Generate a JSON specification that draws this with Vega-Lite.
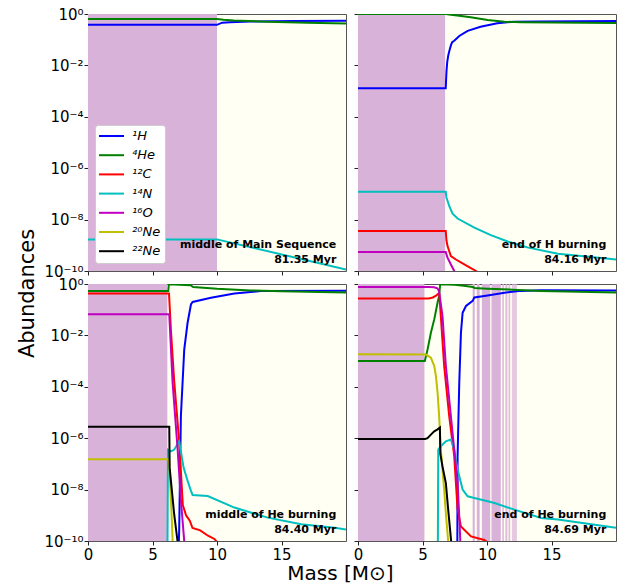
{
"$schema": "https://vega.github.io/schema/vega-lite/v6.json",
"padding": {"left": 15, "top": 6, "right": 5, "bottom": 0},
"bounds": "flush",
"columns": 2,
"spacing": {"row": 13, "column": 12},
"resolve": {"scale": {"color": "independent", "opacity": "independent"}, "legend": {"color": "independent", "opacity": "independent"}},
"config": {
  "font": "DejaVu Sans",
  "view": {"fill": "#fffff3", "stroke": "#555555", "strokeWidth": 1},
  "axis": {"grid": false, "domain": false, "tickSize": 4, "tickColor": "#222222", "tickWidth": 1, "labelFont": "DejaVu Sans", "labelFontSize": 15, "labelColor": "#000000", "labelPadding": 2, "labelFlush": false, "labelOverlap": false, "titleFont": "DejaVu Sans", "titleFontWeight": "normal", "titleColor": "#000000"},
  "line": {"strokeWidth": 2, "clip": true}
},
"datasets": {
  "zones": [
    {"p": 1, "m0": 0, "m1": 10, "kind": "conv"},
    {"p": 2, "m0": 0, "m1": 6.75, "kind": "conv"},
    {"p": 3, "m0": 0, "m1": 6.15, "kind": "conv"},
    {"p": 4, "m0": 0, "m1": 5.15, "kind": "conv"},
    {"p": 4, "m0": 8.89, "m1": 9.05, "kind": "conv"},
    {"p": 4, "m0": 9.21, "m1": 9.43, "kind": "conv"},
    {"p": 4, "m0": 9.6, "m1": 10.25, "kind": "conv"},
    {"p": 4, "m0": 10.35, "m1": 11.07, "kind": "conv"},
    {"p": 4, "m0": 11.18, "m1": 11.31, "kind": "semi"},
    {"p": 4, "m0": 11.42, "m1": 11.58, "kind": "semi"},
    {"p": 4, "m0": 11.67, "m1": 11.8, "kind": "semi"},
    {"p": 4, "m0": 11.93, "m1": 12.32, "kind": "weak"}
  ],
  "notes": [
    {"p": 1, "event": "middle of Main Sequence", "age": "81.35 Myr"},
    {"p": 2, "event": "end of H burning", "age": "84.16 Myr"},
    {"p": 3, "event": "middle of He burning", "age": "84.40 Myr"},
    {"p": 4, "event": "end of He burning", "age": "84.69 Myr"}
  ],
  "curves": [
    {"p":1,"s":"¹H","m":0,"a":0.38},{"p":1,"s":"¹H","m":10,"a":0.38},{"p":1,"s":"¹H","m":10.4,"a":0.46},{"p":1,"s":"¹H","m":11,"a":0.48},{"p":1,"s":"¹H","m":12.6,"a":0.51},{"p":1,"s":"¹H","m":16,"a":0.53},{"p":1,"s":"¹H","m":20,"a":0.55},
    {"p":1,"s":"⁴He","m":0,"a":0.64},{"p":1,"s":"⁴He","m":10,"a":0.64},{"p":1,"s":"⁴He","m":10.5,"a":0.6},{"p":1,"s":"⁴He","m":11.3,"a":0.56},{"p":1,"s":"⁴He","m":13.9,"a":0.5},{"p":1,"s":"⁴He","m":17,"a":0.46},{"p":1,"s":"⁴He","m":20,"a":0.43},
    {"p":1,"s":"¹⁴N","m":0,"a":1.7e-9},{"p":1,"s":"¹⁴N","m":10,"a":1.7e-9},{"p":1,"s":"¹⁴N","m":20,"a":1.15e-10},

    {"p":2,"s":"¹H","m":0,"a":0.0013},{"p":2,"s":"¹H","m":6.8,"a":0.0013},{"p":2,"s":"¹H","m":6.86,"a":0.006},{"p":2,"s":"¹H","m":6.92,"a":0.014},{"p":2,"s":"¹H","m":7.0,"a":0.025},{"p":2,"s":"¹H","m":7.1,"a":0.04},{"p":2,"s":"¹H","m":7.2,"a":0.06},{"p":2,"s":"¹H","m":7.3,"a":0.08},{"p":2,"s":"¹H","m":7.46,"a":0.091},{"p":2,"s":"¹H","m":7.85,"a":0.14},{"p":2,"s":"¹H","m":8.5,"a":0.22},{"p":2,"s":"¹H","m":9.5,"a":0.32},{"p":2,"s":"¹H","m":10.8,"a":0.44},{"p":2,"s":"¹H","m":12.1,"a":0.5},{"p":2,"s":"¹H","m":14,"a":0.51},{"p":2,"s":"¹H","m":20,"a":0.53},
    {"p":2,"s":"⁴He","m":0,"a":0.99},{"p":2,"s":"⁴He","m":6.8,"a":0.99},{"p":2,"s":"⁴He","m":7.2,"a":0.94},{"p":2,"s":"⁴He","m":8,"a":0.84},{"p":2,"s":"⁴He","m":8.74,"a":0.74},{"p":2,"s":"⁴He","m":10.05,"a":0.59},{"p":2,"s":"⁴He","m":11.35,"a":0.5},{"p":2,"s":"⁴He","m":12.64,"a":0.48},{"p":2,"s":"⁴He","m":20,"a":0.45},
    {"p":2,"s":"¹²C","m":0,"a":3.6e-9},{"p":2,"s":"¹²C","m":6.8,"a":3.6e-9},{"p":2,"s":"¹²C","m":6.86,"a":1.5e-9},{"p":2,"s":"¹²C","m":6.94,"a":9.3e-10},{"p":2,"s":"¹²C","m":7.2,"a":3.8e-10},{"p":2,"s":"¹²C","m":7.59,"a":2.8e-10},{"p":2,"s":"¹²C","m":8.24,"a":1.8e-10},{"p":2,"s":"¹²C","m":9.15,"a":1e-10},{"p":2,"s":"¹²C","m":9.6,"a":6e-11},
    {"p":2,"s":"¹⁴N","m":0,"a":1.2e-7},{"p":2,"s":"¹⁴N","m":6.8,"a":1.2e-7},{"p":2,"s":"¹⁴N","m":6.86,"a":7e-8},{"p":2,"s":"¹⁴N","m":6.94,"a":5.4e-8},{"p":2,"s":"¹⁴N","m":7.07,"a":3.4e-8},{"p":2,"s":"¹⁴N","m":7.33,"a":1.7e-8},{"p":2,"s":"¹⁴N","m":7.72,"a":1.1e-8},{"p":2,"s":"¹⁴N","m":9.02,"a":4.9e-9},{"p":2,"s":"¹⁴N","m":10.3,"a":2.5e-9},{"p":2,"s":"¹⁴N","m":11.6,"a":1.4e-9},{"p":2,"s":"¹⁴N","m":13.2,"a":8.1e-10},{"p":2,"s":"¹⁴N","m":15.5,"a":4.7e-10},{"p":2,"s":"¹⁴N","m":18.1,"a":3.5e-10},{"p":2,"s":"¹⁴N","m":20,"a":2.8e-10},
    {"p":2,"s":"¹⁶O","m":0,"a":5.5e-10},{"p":2,"s":"¹⁶O","m":6.8,"a":5.5e-10},{"p":2,"s":"¹⁶O","m":6.94,"a":3.3e-10},{"p":2,"s":"¹⁶O","m":7.2,"a":1.8e-10},{"p":2,"s":"¹⁶O","m":7.46,"a":1e-10},{"p":2,"s":"¹⁶O","m":7.6,"a":6e-11},

    {"p":3,"s":"¹H","m":7.03,"a":5e-11},{"p":3,"s":"¹H","m":7.07,"a":2.8e-10},{"p":3,"s":"¹H","m":7.2,"a":7.2e-6},{"p":3,"s":"¹H","m":7.46,"a":0.0028},{"p":3,"s":"¹H","m":7.72,"a":0.031},{"p":3,"s":"¹H","m":7.98,"a":0.16},{"p":3,"s":"¹H","m":8.11,"a":0.2},{"p":3,"s":"¹H","m":9.53,"a":0.29},{"p":3,"s":"¹H","m":11.35,"a":0.43},{"p":3,"s":"¹H","m":13.4,"a":0.53},{"p":3,"s":"¹H","m":20,"a":0.55},
    {"p":3,"s":"⁴He","m":0,"a":0.53},{"p":3,"s":"⁴He","m":6.22,"a":0.53},{"p":3,"s":"⁴He","m":6.27,"a":0.98},{"p":3,"s":"⁴He","m":7.95,"a":0.9},{"p":3,"s":"⁴He","m":8.15,"a":0.76},{"p":3,"s":"⁴He","m":10,"a":0.65},{"p":3,"s":"⁴He","m":12.6,"a":0.56},{"p":3,"s":"⁴He","m":15,"a":0.52},{"p":3,"s":"⁴He","m":20,"a":0.47},
    {"p":3,"s":"¹²C","m":0,"a":0.43},{"p":3,"s":"¹²C","m":6.28,"a":0.43},{"p":3,"s":"¹²C","m":6.43,"a":0.015},{"p":3,"s":"¹²C","m":6.68,"a":0.00017},{"p":3,"s":"¹²C","m":7.07,"a":7e-7},{"p":3,"s":"¹²C","m":7.35,"a":2.5e-9},{"p":3,"s":"¹²C","m":7.6,"a":1e-9},{"p":3,"s":"¹²C","m":7.9,"a":6e-10},{"p":3,"s":"¹²C","m":8.1,"a":3.2e-10},{"p":3,"s":"¹²C","m":8.7,"a":2.6e-10},{"p":3,"s":"¹²C","m":9.3,"a":1.6e-10},{"p":3,"s":"¹²C","m":9.8,"a":1.2e-10},{"p":3,"s":"¹²C","m":10.1,"a":8e-11},
    {"p":3,"s":"¹⁴N","m":6.16,"a":5e-11},{"p":3,"s":"¹⁴N","m":6.2,"a":3.6e-7},{"p":3,"s":"¹⁴N","m":6.43,"a":3.1e-7},{"p":3,"s":"¹⁴N","m":6.69,"a":3.6e-7},{"p":3,"s":"¹⁴N","m":7.07,"a":7.6e-7},{"p":3,"s":"¹⁴N","m":7.41,"a":7.2e-8},{"p":3,"s":"¹⁴N","m":7.72,"a":2.2e-8},{"p":3,"s":"¹⁴N","m":7.98,"a":8.9e-9},{"p":3,"s":"¹⁴N","m":8.11,"a":6.2e-9},{"p":3,"s":"¹⁴N","m":9.28,"a":5.6e-9},{"p":3,"s":"¹⁴N","m":11.35,"a":2e-9},{"p":3,"s":"¹⁴N","m":13.94,"a":8.1e-10},{"p":3,"s":"¹⁴N","m":16.53,"a":4.5e-10},{"p":3,"s":"¹⁴N","m":19.12,"a":3.3e-10},{"p":3,"s":"¹⁴N","m":20,"a":2.8e-10},
    {"p":3,"s":"¹⁶O","m":0,"a":0.066},{"p":3,"s":"¹⁶O","m":6.3,"a":0.066},{"p":3,"s":"¹⁶O","m":6.56,"a":0.00014},{"p":3,"s":"¹⁶O","m":6.95,"a":3.6e-7},{"p":3,"s":"¹⁶O","m":7.2,"a":4e-9},{"p":3,"s":"¹⁶O","m":7.46,"a":1e-10},{"p":3,"s":"¹⁶O","m":7.55,"a":5e-11},
    {"p":3,"s":"²⁰Ne","m":0,"a":1.5e-7},{"p":3,"s":"²⁰Ne","m":6.25,"a":1.5e-7},{"p":3,"s":"²⁰Ne","m":6.3,"a":9.4e-8},{"p":3,"s":"²⁰Ne","m":6.48,"a":1.1e-9},{"p":3,"s":"²⁰Ne","m":6.56,"a":1e-10},{"p":3,"s":"²⁰Ne","m":6.6,"a":5e-11},
    {"p":3,"s":"²²Ne","m":0,"a":2.8e-6},{"p":3,"s":"²²Ne","m":6.3,"a":2.8e-6},{"p":3,"s":"²²Ne","m":6.33,"a":7e-8},{"p":3,"s":"²²Ne","m":6.68,"a":1.1e-9},{"p":3,"s":"²²Ne","m":6.94,"a":1e-10},{"p":3,"s":"²²Ne","m":7.0,"a":5e-11},

    {"p":4,"s":"¹H","m":7.7,"a":5e-11},{"p":4,"s":"¹H","m":7.72,"a":2e-7},{"p":4,"s":"¹H","m":7.85,"a":0.00014},{"p":4,"s":"¹H","m":7.98,"a":0.0126},{"p":4,"s":"¹H","m":8.11,"a":0.076},{"p":4,"s":"¹H","m":8.37,"a":0.14},{"p":4,"s":"¹H","m":8.89,"a":0.22},{"p":4,"s":"¹H","m":9.02,"a":0.3},{"p":4,"s":"¹H","m":10.05,"a":0.36},{"p":4,"s":"¹H","m":11.35,"a":0.46},{"p":4,"s":"¹H","m":12.64,"a":0.54},{"p":4,"s":"¹H","m":14.2,"a":0.57},{"p":4,"s":"¹H","m":20,"a":0.56},
    {"p":4,"s":"⁴He","m":0,"a":0.001},{"p":4,"s":"⁴He","m":5.18,"a":0.001},{"p":4,"s":"⁴He","m":5.39,"a":0.0028},{"p":4,"s":"⁴He","m":5.65,"a":0.0126},{"p":4,"s":"⁴He","m":5.91,"a":0.042},{"p":4,"s":"⁴He","m":6.17,"a":0.19},{"p":4,"s":"⁴He","m":6.29,"a":0.34},{"p":4,"s":"⁴He","m":6.37,"a":0.98},{"p":4,"s":"⁴He","m":7.5,"a":0.93},{"p":4,"s":"⁴He","m":8.2,"a":0.85},{"p":4,"s":"⁴He","m":8.9,"a":0.76},{"p":4,"s":"⁴He","m":9.05,"a":0.7},{"p":4,"s":"⁴He","m":10,"a":0.66},{"p":4,"s":"⁴He","m":12,"a":0.6},{"p":4,"s":"⁴He","m":14.2,"a":0.54},{"p":4,"s":"⁴He","m":20,"a":0.47},
    {"p":4,"s":"¹²C","m":0,"a":0.27},{"p":4,"s":"¹²C","m":5.15,"a":0.27},{"p":4,"s":"¹²C","m":5.5,"a":0.275},{"p":4,"s":"¹²C","m":5.8,"a":0.3},{"p":4,"s":"¹²C","m":6.05,"a":0.35},{"p":4,"s":"¹²C","m":6.22,"a":0.42},{"p":4,"s":"¹²C","m":6.3,"a":0.42},{"p":4,"s":"¹²C","m":6.42,"a":0.056},{"p":4,"s":"¹²C","m":6.68,"a":0.00065},{"p":4,"s":"¹²C","m":7.07,"a":7.2e-6},{"p":4,"s":"¹²C","m":7.46,"a":2e-7},{"p":4,"s":"¹²C","m":7.59,"a":1.8e-8},{"p":4,"s":"¹²C","m":7.72,"a":1.7e-9},{"p":4,"s":"¹²C","m":7.98,"a":3.7e-10},{"p":4,"s":"¹²C","m":8.76,"a":1.5e-10},{"p":4,"s":"¹²C","m":9.79,"a":1.1e-10},{"p":4,"s":"¹²C","m":9.92,"a":1e-10},{"p":4,"s":"¹²C","m":10.0,"a":6e-11},
    {"p":4,"s":"¹⁴N","m":6.19,"a":5e-11},{"p":4,"s":"¹⁴N","m":6.22,"a":3.6e-7},{"p":4,"s":"¹⁴N","m":6.42,"a":4.9e-7},{"p":4,"s":"¹⁴N","m":6.81,"a":7.6e-7},{"p":4,"s":"¹⁴N","m":7.2,"a":8.9e-7},{"p":4,"s":"¹⁴N","m":7.46,"a":3.6e-7},{"p":4,"s":"¹⁴N","m":7.72,"a":6e-8},{"p":4,"s":"¹⁴N","m":8.11,"a":1e-8},{"p":4,"s":"¹⁴N","m":8.5,"a":5.5e-9},{"p":4,"s":"¹⁴N","m":9.02,"a":4.7e-9},{"p":4,"s":"¹⁴N","m":10.05,"a":3.5e-9},{"p":4,"s":"¹⁴N","m":10.57,"a":3e-9},{"p":4,"s":"¹⁴N","m":12.12,"a":1.66e-9},{"p":4,"s":"¹⁴N","m":14.2,"a":7.9e-10},{"p":4,"s":"¹⁴N","m":15.5,"a":6.9e-10},{"p":4,"s":"¹⁴N","m":18.08,"a":4.5e-10},{"p":4,"s":"¹⁴N","m":20,"a":3.3e-10},
    {"p":4,"s":"¹⁶O","m":0,"a":0.77},{"p":4,"s":"¹⁶O","m":5.5,"a":0.77},{"p":4,"s":"¹⁶O","m":5.9,"a":0.75},{"p":4,"s":"¹⁶O","m":6.15,"a":0.68},{"p":4,"s":"¹⁶O","m":6.27,"a":0.55},{"p":4,"s":"¹⁶O","m":6.3,"a":0.45},{"p":4,"s":"¹⁶O","m":6.55,"a":0.056},{"p":4,"s":"¹⁶O","m":6.81,"a":0.00065},{"p":4,"s":"¹⁶O","m":7.2,"a":7.2e-6},{"p":4,"s":"¹⁶O","m":7.46,"a":3.6e-7},{"p":4,"s":"¹⁶O","m":7.72,"a":1.8e-8},{"p":4,"s":"¹⁶O","m":7.85,"a":9e-10},{"p":4,"s":"¹⁶O","m":7.93,"a":1e-10},{"p":4,"s":"¹⁶O","m":7.96,"a":5e-11},
    {"p":4,"s":"²⁰Ne","m":0,"a":0.00185},{"p":4,"s":"²⁰Ne","m":5.26,"a":0.0018},{"p":4,"s":"²⁰Ne","m":5.65,"a":0.00135},{"p":4,"s":"²⁰Ne","m":5.91,"a":0.00065},{"p":4,"s":"²⁰Ne","m":6.04,"a":0.00026},{"p":4,"s":"²⁰Ne","m":6.17,"a":0.000059},{"p":4,"s":"²⁰Ne","m":6.29,"a":7.2e-6},{"p":4,"s":"²⁰Ne","m":6.42,"a":3.6e-7},{"p":4,"s":"²⁰Ne","m":6.55,"a":6e-8},{"p":4,"s":"²⁰Ne","m":6.68,"a":1e-8},{"p":4,"s":"²⁰Ne","m":6.81,"a":1.2e-9},{"p":4,"s":"²⁰Ne","m":6.99,"a":1e-10},{"p":4,"s":"²⁰Ne","m":7.02,"a":5e-11},
    {"p":4,"s":"²²Ne","m":0,"a":9.3e-7},{"p":4,"s":"²²Ne","m":5.2,"a":9.3e-7},{"p":4,"s":"²²Ne","m":5.39,"a":1.0e-6},{"p":4,"s":"²²Ne","m":5.65,"a":1.38e-6},{"p":4,"s":"²²Ne","m":5.91,"a":1.86e-6},{"p":4,"s":"²²Ne","m":6.17,"a":2.2e-6},{"p":4,"s":"²²Ne","m":6.35,"a":2.6e-6},{"p":4,"s":"²²Ne","m":6.38,"a":2.5e-7},{"p":4,"s":"²²Ne","m":6.55,"a":8e-8},{"p":4,"s":"²²Ne","m":6.81,"a":1.8e-8},{"p":4,"s":"²²Ne","m":6.99,"a":1.7e-9},{"p":4,"s":"²²Ne","m":7.22,"a":1e-10},{"p":4,"s":"²²Ne","m":7.26,"a":5e-11}
  ]
},
"concat": [
  {
    "width": 258, "height": 257,
    "layer": [
      {"data": {"name": "zones"}, "transform": [{"filter": "datum.p == 1"}],
       "mark": {"type": "rect", "color": "#d8b2d8"},
       "encoding": {
         "x": {"field": "m0", "type": "quantitative", "scale": {"domain": [0, 20], "nice": false, "zero": false}, "axis": {"values": [0, 5, 10, 15], "labels": false, "title": null}},
         "x2": {"field": "m1"},
         "y": {"datum": 1e-10, "type": "quantitative", "scale": {"type": "log", "domain": [1e-10, 1], "nice": false}, "axis": {"values": [1e-10, 1e-8, 1e-6, 1e-4, 0.01, 1], "labelPadding": 1, "labelExpr": "datum.value > 0.5 ? '10⁰' : datum.value > 0.005 ? '10⁻²' : datum.value > 0.00005 ? '10⁻⁴' : datum.value > 0.0000005 ? '10⁻⁶' : datum.value > 0.000000005 ? '10⁻⁸' : '10⁻¹⁰'", "title": "Abundances", "titleFontSize": 21, "titleX": -55, "titleY": 279, "titleAngle": -90, "titleAlign": "center", "titleBaseline": "alphabetic"}},
         "y2": {"datum": 1},
         "opacity": {"field": "kind", "type": "ordinal", "scale": {"domain": ["conv", "semi", "weak"], "range": [1, 0.7, 0.45]}, "legend": null}
       }},
      {"data": {"name": "curves"}, "transform": [{"filter": "datum.p == 1"}],
       "mark": {"type": "line", "clip": true},
       "encoding": {
         "x": {"field": "m", "type": "quantitative"},
         "y": {"field": "a", "type": "quantitative"},
         "color": {"field": "s", "type": "nominal", "scale": {"domain": ["¹H", "⁴He", "¹²C", "¹⁴N", "¹⁶O", "²⁰Ne", "²²Ne"], "range": ["#0000ff", "#008000", "#ff0000", "#00bfbf", "#bf00bf", "#bfbf00", "#000000"]},
           "legend": {"orient": "none", "legendX": 7, "legendY": 111, "title": null, "fillColor": "#ffffff", "strokeColor": "#cccccc", "cornerRadius": 3, "padding": 4.5, "symbolType": "M-2.5,0H2.5", "symbolSize": 100, "symbolStrokeWidth": 2, "symbolOffset": 5.5, "labelFont": "DejaVu Sans", "labelFontSize": 13, "labelFontStyle": "italic", "labelColor": "#000000", "labelOffset": 14, "rowPadding": 5.2}}
       }},
      {"data": {"name": "notes"}, "transform": [{"filter": "datum.p == 1"}],
       "mark": {"type": "text", "align": "right", "baseline": "alphabetic", "fontWeight": "bold", "fontSize": 11, "font": "DejaVu Sans", "color": "#000000"},
       "encoding": {"x": {"datum": 19.25}, "y": {"datum": 7.66e-10}, "text": {"field": "event"}}},
      {"data": {"name": "notes"}, "transform": [{"filter": "datum.p == 1"}],
       "mark": {"type": "text", "align": "right", "baseline": "alphabetic", "fontWeight": "bold", "fontSize": 11, "font": "DejaVu Sans", "color": "#000000"},
       "encoding": {"x": {"datum": 19.25}, "y": {"datum": 2.0e-10}, "text": {"field": "age"}}}
    ]
  },
  {
    "width": 258, "height": 257,
    "layer": [
      {"data": {"name": "zones"}, "transform": [{"filter": "datum.p == 2"}],
       "mark": {"type": "rect", "color": "#d8b2d8"},
       "encoding": {
         "x": {"field": "m0", "type": "quantitative", "scale": {"domain": [0, 20], "nice": false, "zero": false}, "axis": {"values": [0, 5, 10, 15], "labels": false, "title": null}},
         "x2": {"field": "m1"},
         "y": {"datum": 1e-10, "type": "quantitative", "scale": {"type": "log", "domain": [1e-10, 1], "nice": false}, "axis": {"values": [1e-10, 1e-8, 1e-6, 1e-4, 0.01, 1], "labels": false, "title": null}},
         "y2": {"datum": 1},
         "opacity": {"field": "kind", "type": "ordinal", "scale": {"domain": ["conv", "semi", "weak"], "range": [1, 0.7, 0.45]}, "legend": null}
       }},
      {"data": {"name": "curves"}, "transform": [{"filter": "datum.p == 2"}],
       "mark": {"type": "line", "clip": true},
       "encoding": {
         "x": {"field": "m", "type": "quantitative"},
         "y": {"field": "a", "type": "quantitative"},
         "color": {"field": "s", "type": "nominal", "scale": {"domain": ["¹H", "⁴He", "¹²C", "¹⁴N", "¹⁶O", "²⁰Ne", "²²Ne"], "range": ["#0000ff", "#008000", "#ff0000", "#00bfbf", "#bf00bf", "#bfbf00", "#000000"]}, "legend": null}
       }},
      {"data": {"name": "notes"}, "transform": [{"filter": "datum.p == 2"}],
       "mark": {"type": "text", "align": "right", "baseline": "alphabetic", "fontWeight": "bold", "fontSize": 11, "font": "DejaVu Sans", "color": "#000000"},
       "encoding": {"x": {"datum": 19.25}, "y": {"datum": 7.66e-10}, "text": {"field": "event"}}},
      {"data": {"name": "notes"}, "transform": [{"filter": "datum.p == 2"}],
       "mark": {"type": "text", "align": "right", "baseline": "alphabetic", "fontWeight": "bold", "fontSize": 11, "font": "DejaVu Sans", "color": "#000000"},
       "encoding": {"x": {"datum": 19.25}, "y": {"datum": 2.0e-10}, "text": {"field": "age"}}}
    ]
  },
  {
    "width": 258, "height": 257,
    "layer": [
      {"data": {"name": "zones"}, "transform": [{"filter": "datum.p == 3"}],
       "mark": {"type": "rect", "color": "#d8b2d8"},
       "encoding": {
         "x": {"field": "m0", "type": "quantitative", "scale": {"domain": [0, 20], "nice": false, "zero": false}, "axis": {"values": [0, 5, 10, 15], "title": "Mass [M⊙]", "titleFontSize": 20, "titleX": 252, "titleY": 38, "titleAlign": "center", "titleBaseline": "alphabetic"}},
         "x2": {"field": "m1"},
         "y": {"datum": 1e-10, "type": "quantitative", "scale": {"type": "log", "domain": [1e-10, 1], "nice": false}, "axis": {"values": [1e-10, 1e-8, 1e-6, 1e-4, 0.01, 1], "labelPadding": 1, "labelExpr": "datum.value > 0.5 ? '10⁰' : datum.value > 0.005 ? '10⁻²' : datum.value > 0.00005 ? '10⁻⁴' : datum.value > 0.0000005 ? '10⁻⁶' : datum.value > 0.000000005 ? '10⁻⁸' : '10⁻¹⁰'", "title": null}},
         "y2": {"datum": 1},
         "opacity": {"field": "kind", "type": "ordinal", "scale": {"domain": ["conv", "semi", "weak"], "range": [1, 0.7, 0.45]}, "legend": null}
       }},
      {"data": {"name": "curves"}, "transform": [{"filter": "datum.p == 3"}],
       "mark": {"type": "line", "clip": true},
       "encoding": {
         "x": {"field": "m", "type": "quantitative"},
         "y": {"field": "a", "type": "quantitative"},
         "color": {"field": "s", "type": "nominal", "scale": {"domain": ["¹H", "⁴He", "¹²C", "¹⁴N", "¹⁶O", "²⁰Ne", "²²Ne"], "range": ["#0000ff", "#008000", "#ff0000", "#00bfbf", "#bf00bf", "#bfbf00", "#000000"]}, "legend": null}
       }},
      {"data": {"name": "notes"}, "transform": [{"filter": "datum.p == 3"}],
       "mark": {"type": "text", "align": "right", "baseline": "alphabetic", "fontWeight": "bold", "fontSize": 11, "font": "DejaVu Sans", "color": "#000000"},
       "encoding": {"x": {"datum": 19.25}, "y": {"datum": 7.66e-10}, "text": {"field": "event"}}},
      {"data": {"name": "notes"}, "transform": [{"filter": "datum.p == 3"}],
       "mark": {"type": "text", "align": "right", "baseline": "alphabetic", "fontWeight": "bold", "fontSize": 11, "font": "DejaVu Sans", "color": "#000000"},
       "encoding": {"x": {"datum": 19.25}, "y": {"datum": 2.0e-10}, "text": {"field": "age"}}}
    ]
  },
  {
    "width": 258, "height": 257,
    "layer": [
      {"data": {"name": "zones"}, "transform": [{"filter": "datum.p == 4"}],
       "mark": {"type": "rect", "color": "#d8b2d8"},
       "encoding": {
         "x": {"field": "m0", "type": "quantitative", "scale": {"domain": [0, 20], "nice": false, "zero": false}, "axis": {"values": [0, 5, 10, 15], "title": null}},
         "x2": {"field": "m1"},
         "y": {"datum": 1e-10, "type": "quantitative", "scale": {"type": "log", "domain": [1e-10, 1], "nice": false}, "axis": {"values": [1e-10, 1e-8, 1e-6, 1e-4, 0.01, 1], "labels": false, "title": null}},
         "y2": {"datum": 1},
         "opacity": {"field": "kind", "type": "ordinal", "scale": {"domain": ["conv", "semi", "weak"], "range": [1, 0.7, 0.45]}, "legend": null}
       }},
      {"data": {"name": "curves"}, "transform": [{"filter": "datum.p == 4"}],
       "mark": {"type": "line", "clip": true},
       "encoding": {
         "x": {"field": "m", "type": "quantitative"},
         "y": {"field": "a", "type": "quantitative"},
         "color": {"field": "s", "type": "nominal", "scale": {"domain": ["¹H", "⁴He", "¹²C", "¹⁴N", "¹⁶O", "²⁰Ne", "²²Ne"], "range": ["#0000ff", "#008000", "#ff0000", "#00bfbf", "#bf00bf", "#bfbf00", "#000000"]}, "legend": null}
       }},
      {"data": {"name": "notes"}, "transform": [{"filter": "datum.p == 4"}],
       "mark": {"type": "text", "align": "right", "baseline": "alphabetic", "fontWeight": "bold", "fontSize": 11, "font": "DejaVu Sans", "color": "#000000"},
       "encoding": {"x": {"datum": 19.25}, "y": {"datum": 7.66e-10}, "text": {"field": "event"}}},
      {"data": {"name": "notes"}, "transform": [{"filter": "datum.p == 4"}],
       "mark": {"type": "text", "align": "right", "baseline": "alphabetic", "fontWeight": "bold", "fontSize": 11, "font": "DejaVu Sans", "color": "#000000"},
       "encoding": {"x": {"datum": 19.25}, "y": {"datum": 2.0e-10}, "text": {"field": "age"}}}
    ]
  }
]
}
